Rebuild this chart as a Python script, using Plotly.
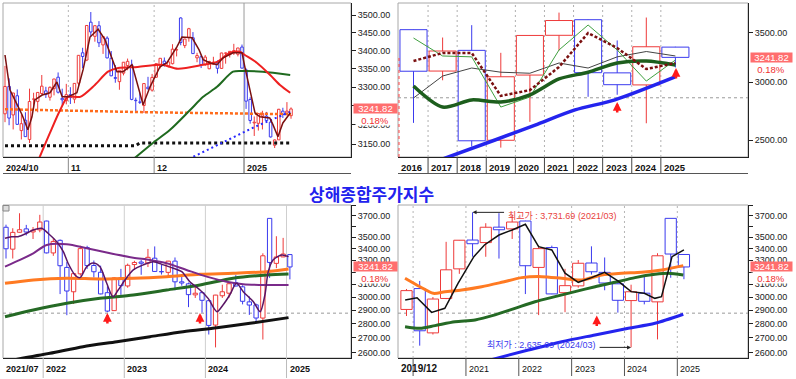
import math
import plotly.graph_objects as go

W, H = 796, 379
LAT = "Liberation Sans, Arial, sans-serif"
MIX = "Liberation Sans, Arial, Noto Sans CJK KR, sans-serif"
KOR = "Noto Sans CJK KR, sans-serif"
UP, DN = "#ee3a3a", "#3a3aee"

TITLE = "상해종합주가지수"
LAST_CLOSE = 3241.82
CHANGE_TXT = "0.18%"

# ================= Top-left : daily (2024/10/10 - 2025/01/17) =================
d_open = [3229, 3302, 3226, 3277, 3185, 3212, 3162, 3268, 3262, 3283,
          3290, 3273, 3296, 3327, 3270, 3264, 3280, 3268, 3311, 3394,
          3374, 3480, 3440, 3470, 3416, 3435, 3379, 3326, 3315, 3338,
          3359, 3360, 3265, 3260, 3251, 3300, 3292, 3327, 3358, 3371,
          3358, 3364, 3402, 3492, 3414, 3437, 3436, 3380, 3383, 3362,
          3350, 3363, 3368, 3351, 3393, 3389, 3394, 3390, 3410, 3347,
          3267, 3205, 3204, 3223, 3223, 3207, 3147, 3161, 3236, 3231, 3224]
d_high = [3358, 3324, 3284.5, 3294, 3228, 3233, 3296, 3285, 3286, 3333,
          3301, 3302, 3322.5, 3340, 3296, 3309, 3300, 3310.5, 3387.5, 3408,
          3471, 3509, 3470.5, 3483, 3440, 3440, 3399, 3360, 3346.5, 3368.5,
          3378, 3375, 3272, 3285, 3310, 3328, 3336, 3364.5, 3379, 3381,
          3371, 3418, 3409, 3494, 3433, 3464, 3452, 3394, 3387, 3388,
          3372, 3383, 3373, 3394, 3395, 3399, 3419, 3408, 3417, 3351,
          3273, 3222, 3230, 3237, 3234, 3213, 3162, 3242, 3245, 3260, 3246]
d_low = [3207, 3199, 3188, 3200, 3162, 3169, 3152.8, 3243, 3233, 3280,
         3271, 3264, 3278, 3283, 3253, 3254, 3255, 3257, 3303, 3352,
         3371, 3438, 3425, 3410, 3391, 3379, 3330, 3312, 3293, 3332,
         3346, 3265, 3232, 3255, 3231, 3294, 3288, 3325, 3351, 3356,
         3354, 3362, 3384, 3415, 3407, 3425, 3391, 3368, 3352, 3358,
         3349, 3361, 3337, 3350, 3364, 3381, 3388, 3384, 3351, 3242,
         3203, 3171, 3185, 3188, 3208, 3167, 3140, 3161, 3218, 3226, 3216]
d_close = [3301.93, 3217.74, 3284.32, 3201.29, 3202.95, 3169.38, 3261.56, 3268.11, 3285.87, 3302.80,
           3280.26, 3299.70, 3322.20, 3286.41, 3266.24, 3279.82, 3272.01, 3310.21, 3386.99, 3383.81,
           3470.66, 3452.30, 3470.07, 3421.97, 3439.28, 3379.84, 3330.73, 3323.85, 3346.01, 3367.99,
           3370.40, 3267.19, 3263.76, 3259.76, 3309.78, 3295.70, 3326.46, 3363.98, 3378.81, 3364.65,
           3368.86, 3404.08, 3402.53, 3422.66, 3432.49, 3461.50, 3391.88, 3386.33, 3361.49, 3382.21,
           3370.03, 3368.07, 3351.26, 3393.53, 3393.35, 3398.08, 3400.14, 3407.33, 3351.76, 3262.56,
           3211.43, 3206.92, 3229.64, 3230.17, 3211.39, 3168.52, 3160.76, 3240.94, 3227.12, 3236.03, 3241.82]
d_short_x = [0, 1.2, 2.4, 4.2, 5.6, 6.6, 7.3, 9.1, 11.0, 12.7, 14.0, 15.4, 17.6, 19.1, 20.8, 22.8,
             24.5, 26.2, 27.4, 28.9, 31.1, 33.8, 35.5, 37.9, 39.6, 42.1, 43.3, 45.8, 47.5, 48.5,
             50.2, 51.9, 53.4, 55.8, 58.0, 58.7, 60.0, 61.2, 62.4, 64.8, 65.6, 66.8, 68.0, 69.8]
d_short_y = [3388, 3293, 3266, 3226, 3187, 3221, 3266, 3279, 3285, 3314, 3274, 3274, 3285, 3347, 3438, 3460,
             3430, 3380, 3342, 3342, 3361, 3253, 3301, 3355, 3366, 3411, 3438, 3436, 3402, 3375,
             3366, 3361, 3380, 3394, 3394, 3355, 3285, 3231, 3221, 3218, 3200, 3169, 3205, 3231]
d_ma20_x = [7.8, 11.0, 13.5, 15.4, 18.4, 22.0, 25.2, 27.7, 32.5, 38.4, 42.3, 48.5, 51.9, 55.1, 57.5, 58.7, 61.7, 64.9, 67.3, 69.8]
d_ma20_y = [3100, 3179, 3239, 3274, 3274, 3306, 3342, 3352, 3355, 3361, 3350, 3361, 3369, 3394, 3397, 3388, 3366, 3333, 3306, 3285]
d_ma60_x = [31.0, 36.2, 40.4, 45.3, 48.5, 51.9, 55.8, 58.2, 63.1, 69.8]
d_ma60_y = [3108, 3153, 3187, 3239, 3274, 3301, 3342, 3344, 3342, 3333]
d_ma120_x = [45.0, 53.8, 61.2, 69.8]
d_ma120_y = [3112, 3156, 3195, 3234]
d_orange_x = [0, 35, 70]
d_orange_y = [3241, 3233, 3228]
d_black_x = [0, 32, 33, 70]
d_black_y = [3146, 3146, 3153, 3153]
d_lab_pos = [-0.49, 15.5, 36.5, 58.5]
d_lab_txt = ["2024/10", "11", "12", "2025"]
d_yticks = [3150, 3200, 3250, 3300, 3350, 3400, 3450, 3500]
d_yhidden = [3250]          # label fully covered by the price tag

# ================= Top-right : yearly (2016 - 2025) =================
y_open = [3536.59, 3105.31, 3314.03, 2497.88, 3066.34, 3474.68, 3649.15, 3087.51, 2972.78, 3347.94]
y_high = [3538.69, 3450.49, 3587.03, 3288.45, 3474.92, 3731.69, 3651.89, 3418.95, 3674.40, 3351.70]
y_low = [2638.30, 3016.53, 2449.20, 2440.91, 2646.80, 3312.72, 2863.65, 2882.02, 2635.09, 3140.98]
y_close = [3103.64, 3307.17, 2493.90, 3050.12, 3473.07, 3639.78, 3089.26, 2974.93, 3351.76, 3241.82]
y_years = ["2016", "2017", "2018", "2019", "2020", "2021", "2022", "2023", "2024", "2025"]
y_line_x = [0, 1, 2, 3, 4, 5, 6, 7, 8, 9]
y_green_thin = [3445, 3256, 3247, 2773, 2862, 3318, 3589, 3318, 3009, 3215]
y_red_dot = [3205, 3287, 3287, 2872, 2925, 3145, 3500, 3339, 3125, 3185]
y_gray_thin = [2853, 3057, 3135, 3094, 3084, 3185, 3135, 3247, 3302, 3256]
y_green_thick = [2963, 2773, 2836, 2817, 2881, 3029, 3094, 3185, 3205, 3165]
y_blue_x = [1.0, 2.8, 4.18, 5.55, 6.92, 8.99]
y_blue_y = [2355, 2500, 2620, 2748, 2836, 3048]
y_arrow_x = [7.0, 9.02]
y_arrow_y = [2818, 3135]
y_ref_level = 2855
y_yticks = [2500, 3000, 3500]

# ================= Bottom-left : monthly (2021/07 - 2025/01) =================
m_open = [3591, 3394, 3545, 3576, 3548, 3567, 3649, 3361, 3472, 3238,
          3041, 3185, 3408, 3254, 3198, 3034, 2897, 3152, 3087, 3262,
          3283, 3275, 3316, 3203, 3197, 3291, 3120, 3104, 3017, 3034,
          2972, 2791, 3010, 3030, 3112, 3080, 2963, 2940, 2842, 3674,
          3272, 3327, 3347]
m_high = [3615, 3582, 3723, 3613, 3593, 3708, 3652, 3491, 3480, 3283,
          3187, 3424, 3424, 3296, 3253, 3084, 3158, 3226, 3270, 3294,
          3300, 3396, 3418, 3259, 3293, 3322, 3159, 3114, 3089, 3045,
          2977, 3017, 3097, 3113, 3174, 3092, 3005, 2949, 3358, 3674,
          3509, 3494, 3351]
m_low = [3313, 3313, 3542, 3516, 3484, 3545, 3357, 3336, 3023, 2863,
         2947, 3170, 3226, 3155, 3021, 2885, 2896, 3017, 3073, 3218,
         3177, 3241, 3200, 3179, 3167, 3053, 3089, 2923, 2993, 2882,
         2724, 2635, 2993, 2995, 3082, 2944, 2865, 2815, 2689, 3152,
         3232, 3325, 3140]
m_close = [3397.36, 3543.94, 3568.17, 3547.34, 3563.89, 3639.78, 3361.44, 3462.31, 3252.20, 3047.06,
           3186.43, 3398.62, 3253.24, 3202.14, 3024.39, 2893.48, 3151.34, 3089.26, 3255.67, 3279.61,
           3272.86, 3323.27, 3204.56, 3202.06, 3291.04, 3119.88, 3110.48, 3018.77, 3029.67, 2974.93,
           2788.55, 3015.17, 3041.17, 3104.82, 3086.81, 2967.40, 2938.75, 2842.21, 3336.50, 3279.82,
           3326.46, 3351.76, 3241.82]
m_purple_thin_x = [-0.15, 0.84, 1.78, 3.06, 4.0, 5.28, 6.21, 7.5, 8.48, 9.17, 10.2, 10.95, 11.94, 12.87,
                   13.9, 14.9, 15.83, 16.6, 17.6, 18.83, 20.3, 21.8, 23.3, 24.75, 26.0, 27.2, 28.7,
                   29.9, 31.2, 32.1, 33.1, 34.1, 35.1, 36.6, 37.6, 38.3, 38.8, 39.5, 40.8, 41.8]
m_purple_thin_y = [3491, 3505, 3505, 3536, 3566, 3582, 3536, 3460, 3372, 3275, 3176, 3154, 3244, 3275,
                   3244, 3108, 3003, 3055, 3135, 3217, 3259, 3286, 3259, 3231, 3203, 3121, 3055,
                   2990, 2889, 2939, 3016, 3108, 3042, 2964, 2889, 3016, 3203, 3301, 3344, 3329]
m_purple_x = [-0.15, 2.07, 4.04, 6.02, 8.98, 11.94, 15.4, 18.83, 21.3, 23.77, 26.7, 29.7, 32.65, 35.1, 37.6, 41.8]
m_purple_y = [3244, 3301, 3358, 3431, 3437, 3402, 3358, 3320, 3301, 3273, 3217, 3162, 3121, 3100, 3095, 3095]
m_long_x = [-0.15, 4.04, 8.98, 13.9, 18.83, 23.77, 28.7, 33.6, 38.6, 41.8]
m_orange_y = [3108, 3135, 3149, 3143, 3149, 3162, 3181, 3190, 3203, 3225]
m_green_y = [2852, 2902, 2952, 2990, 3016, 3055, 3095, 3149, 3176, 3184]
m_black_x = [1.5, 6.5, 11.4, 16.4, 21.3, 26.2, 31.2, 36.1, 41.8]
m_black_y = [2555, 2595, 2640, 2674, 2709, 2744, 2772, 2804, 2845]
m_arrow_x = [15.0, 28.7]
m_arrow_y = [2880, 2880]
m_lab_pos = [-0.444, 5.5, 17.5, 29.5, 41.5]
m_lab_txt = ["2021/07", "2022", "2023", "2024", "2025"]

# ================= Bottom-right : quarterly (2019/12 - 2025/03) =================
q_open = [2905.7, 3066.3, 2735.4, 2989.0, 3226.0, 3474.7, 3452.0, 3592.0, 3576.0, 3649.2, 3238.0,
          3408.0, 3034.0, 3087.5, 3275.0, 3197.0, 3104.0, 2972.8, 3030.0, 2963.0, 3674.4, 3347.9]
q_high = [3063.0, 3127.2, 3000.0, 3458.8, 3474.9, 3731.7, 3628.5, 3723.9, 3708.9, 3651.9, 3424.8,
          3424.8, 3226.1, 3300.6, 3418.9, 3322.1, 3114.0, 3097.0, 3174.3, 3358.6, 3674.4, 3351.7]
q_low = [2857.0, 2646.8, 2724.0, 2984.0, 3185.0, 3328.5, 3328.0, 3312.7, 3484.3, 3023.3, 2863.7,
         3021.9, 2885.1, 3073.3, 3179.0, 3053.0, 2882.0, 2635.1, 2944.0, 2689.7, 3152.8, 3141.0]
q_close = [3050.12, 2750.30, 2984.67, 3218.05, 3473.07, 3441.91, 3591.20, 3568.17, 3639.78, 3252.20, 3398.62,
           3024.39, 3089.26, 3272.86, 3202.06, 3110.48, 2974.93, 3041.17, 2967.40, 3336.50, 3351.76, 3241.82]
q_black_x = [-0.1, 0.8, 1.9, 2.9, 3.9, 5.1, 5.9, 7.0, 8.0, 9.0, 10.0, 11.0, 12.0, 13.0, 14.0, 15.0,
             16.0, 17.0, 18.0, 18.8, 19.3, 20.1, 21.0]
q_black_y = [2977, 2995, 2884, 2914, 3108, 3329, 3431, 3520, 3566, 3619, 3416, 3387, 3190, 3116, 3154, 3198,
             3127, 3042, 3029, 2990, 3003, 3329, 3387]
q_orange_x = [-0.11, 1.02, 2.03, 2.91, 4.18, 5.69, 7.2, 8.72, 10.23, 11.75, 13.26, 14.78, 16.29, 17.8, 19.32, 20.95]
q_orange_y = [3149, 3081, 3029, 3042, 3055, 3081, 3116, 3154, 3162, 3149, 3135, 3176, 3190, 3198, 3217, 3253]
q_green_x = [-0.11, 1.02, 2.16, 3.67, 5.19, 6.7, 8.21, 9.73, 11.24, 12.76, 14.28, 15.78, 17.3, 18.81, 19.82, 20.95]
q_green_y = [2779, 2768, 2787, 2815, 2828, 2865, 2914, 2964, 3003, 3042, 3081, 3116, 3154, 3181, 3190, 3176]
q_blue_x = [6.5, 9.22, 11.75, 14.27, 16.79, 18.81, 20.95]
q_blue_y = [2555, 2617, 2674, 2721, 2768, 2804, 2870]
q_arrow_x = [14.4]
q_arrow_y = [2860]
q_hi = dict(idx=5, val=3731.69, text="최고가 : 3,731.69 (2021/03)")
q_lo = dict(idx=17, val=2635.09, text="최저가 : 2,635.09 (2024/03)")
q_lab_pos = [-0.643, 4.5, 8.5, 12.5, 16.5, 20.5]
q_lab_txt = ["2019/12", "2021", "2022", "2023", "2024", "2025"]
b_ref_level = 2878
b_yticks = [2600, 2700, 2800, 2900, 3000, 3100, 3200, 3300, 3400, 3500, 3600, 3700, 3800]
b_yhidden = [3200, 3600, 3800]   # 3200 is fully covered by the price tag


# ================= helpers =================
def lg(v):
    return math.log10(v)


def py(p):
    return 1 - p / H


def px(p):
    return p / W


fig = go.Figure()


def add_candles(o, h, l, c, width, xa, ya):
    n = len(o)
    for rising, color in ((True, UP), (False, DN)):
        sel = [i for i in range(n) if (c[i] >= o[i]) == rising]
        wx, wy = [], []
        for i in sel:
            top, bot = max(o[i], c[i]), min(o[i], c[i])
            wx += [i, i, None, i, i, None]
            wy += [h[i], top, None, bot, l[i], None]
        fig.add_trace(go.Bar(x=sel, y=[abs(c[i] - o[i]) for i in sel],
                             base=[min(o[i], c[i]) for i in sel], width=width,
                             marker=dict(color="white", line=dict(color=color, width=1)),
                             xaxis=xa, yaxis=ya, hoverinfo="skip", showlegend=False))
        fig.add_trace(go.Scatter(x=wx, y=wy, mode="lines", line=dict(color=color, width=1),
                                 xaxis=xa, yaxis=ya, hoverinfo="skip", showlegend=False))


def add_line(x, y, xa, ya, color, width, dash="solid", shape="linear"):
    fig.add_trace(go.Scatter(x=x, y=y, mode="lines",
                             line=dict(color=color, width=width, dash=dash, shape=shape, smoothing=0.8),
                             xaxis=xa, yaxis=ya, hoverinfo="skip", showlegend=False))


# ---- top-left
add_candles(d_open, d_high, d_low, d_close, 0.62, "x", "y")
add_line(d_black_x, d_black_y, "x", "y", "#111111", 3, "3px,3px")
add_line(d_orange_x, d_orange_y, "x", "y", "#ff6a1a", 2.5, "3px,2px")
add_line(d_ma120_x, d_ma120_y, "x", "y", "#2a2aff", 2, "2px,3px")
add_line(d_ma60_x, d_ma60_y, "x", "y", "#1f6a1f", 2, shape="spline")
add_line(d_ma20_x, d_ma20_y, "x", "y", "#ee2020", 2, shape="spline")
add_line(d_short_x, d_short_y, "x", "y", "#7a1010", 1.5)

# ---- top-right
add_candles(y_open, y_high, y_low, y_close, 0.93, "x2", "y2")
add_line(y_line_x, y_gray_thin, "x2", "y2", "#444444", 1)
add_line(y_line_x, y_green_thin, "x2", "y2", "#3fa03f", 1)
add_line(y_line_x, y_green_thick, "x2", "y2", "#1d5e1d", 3.5, shape="spline")
add_line(y_line_x, y_red_dot, "x2", "y2", "#7a1010", 2.5, "3px,2px")
add_line(y_blue_x, y_blue_y, "x2", "y2", "#2424ee", 3.5, shape="spline")

# ---- bottom-left
add_candles(m_open, m_high, m_low, m_close, 0.64, "x3", "y3")
add_line(m_black_x, m_black_y, "x3", "y3", "#111111", 3, shape="spline")
add_line(m_long_x, m_green_y, "x3", "y3", "#256a25", 3, shape="spline")
add_line(m_long_x, m_orange_y, "x3", "y3", "#ff7a22", 3, shape="spline")
add_line(m_purple_x, m_purple_y, "x3", "y3", "#7a2a8a", 2, shape="spline")
add_line(m_purple_thin_x, m_purple_thin_y, "x3", "y3", "#5a1565", 1.5, shape="spline")

# ---- bottom-right
add_candles(q_open, q_high, q_low, q_close, 0.85, "x4", "y4")
add_line(q_blue_x, q_blue_y, "x4", "y4", "#2424ee", 3, shape="spline")
add_line(q_green_x, q_green_y, "x4", "y4", "#256a25", 3, shape="spline")
add_line(q_orange_x, q_orange_y, "x4", "y4", "#ff7a22", 3, shape="spline")
add_line(q_black_x, q_black_y, "x4", "y4", "#111111", 1.5)

# ================= axes =================
LEFT = [px(3), px(351)]
RIGHT = [px(398), px(748)]
TOP = [py(157), py(3)]
BOT = [py(358), py(205)]


def xax(domain, anchor, rng):
    return dict(domain=domain, anchor=anchor, range=rng, showgrid=False, zeroline=False,
                showticklabels=False, ticks="", showline=True, linecolor="#222", linewidth=1,
                fixedrange=True)


def yax(domain, anchor, lo, hi, vals, hidden=()):
    texts = ["" if v in hidden else f"{v:.2f}" for v in vals]
    return dict(domain=domain, anchor=anchor, type="log", range=[lg(lo), lg(hi)], side="right",
                showgrid=False, zeroline=False, showline=True, linecolor="#222", linewidth=1,
                ticks="outside", ticklen=4, tickwidth=1, tickcolor="#222",
                tickvals=vals, ticktext=texts, tickfont=dict(family=LAT, size=9, color="#222"),
                fixedrange=True)


shapes = []
annotations = []

# frames
for (x0, x1, y0, y1) in ((3, 351, 3, 157), (398, 748, 3, 157), (3, 351, 205, 358), (398, 748, 205, 358)):
    shapes.append(dict(type="rect", xref="paper", yref="paper", x0=px(x0), x1=px(x1), y0=py(y1), y1=py(y0),
                       line=dict(color="#a8a8a8", width=1), layer="below"))

# separator lines under top labels
for (x0, x1) in ((3, 351), (398, 748)):
    shapes.append(dict(type="line", xref="paper", yref="paper", x0=px(x0), x1=px(x1), y0=py(173.5), y1=py(173.5),
                       line=dict(color="#555", width=1)))


def vgrid(xref, pos, color, dash, y_top, y_bot, sep_bot, sep_color):
    for p in pos:
        shapes.append(dict(type="line", xref=xref, yref="paper", x0=p, x1=p, y0=py(y_bot), y1=py(y_top),
                           line=dict(color=color, width=1, dash=dash), layer="below"))
        shapes.append(dict(type="line", xref=xref, yref="paper", x0=p, x1=p, y0=py(sep_bot), y1=py(y_bot),
                           line=dict(color=sep_color, width=1)))


vgrid("x", d_lab_pos[1:3], "#b5b5b5", "2px,3px", 3, 157, 173, "#888")
vgrid("x", d_lab_pos[3:], "#9a9a9a", "solid", 3, 157, 173, "#555")
vgrid("x2", [i + 0.5 for i in range(9)], "#b0b0b0", "2px,3px", 3, 157, 173, "#444")
vgrid("x3", m_lab_pos[1:], "#cfcfcf", "solid", 205, 358, 378, "#bbbbbb")
vgrid("x4", q_lab_pos[1:] + [0.5], "#b5b5b5", "2px,3px", 205, 358, 376, "#555")

# horizontal reference lines
for (xr, yr, lev) in (("x2 domain", "y2", y_ref_level), ("x3 domain", "y3", b_ref_level), ("x4 domain", "y4", b_ref_level)):
    shapes.append(dict(type="line", xref=xr, yref=yr, x0=0, x1=1, y0=lev, y1=lev,
                       line=dict(color="#9a9a9a", width=1, dash="3px,3px"), layer="below"))

# red dashed marker on left edge of yearly chart
shapes.append(dict(type="line", xref="paper", yref="paper", x0=px(399), x1=px(399), y0=py(157), y1=py(58),
                   line=dict(color="#ff4040", width=1, dash="3px,3px")))
# small square button at top-left of monthly chart
shapes.append(dict(type="rect", xref="paper", yref="paper", x0=px(3), x1=px(9), y0=py(211), y1=py(205.5),
                   line=dict(color="#888", width=1), fillcolor="#dddddd"))


def xlabels(xref, pos, txt, ypix, size, bold):
    for k, (p, t) in enumerate(zip(pos, txt)):
        b = bold[k] if isinstance(bold, list) else bold
        annotations.append(dict(xref=xref, yref="paper", x=p, y=py(ypix), text=t, showarrow=False,
                                xanchor="left", yanchor="middle", xshift=1,
                                font=dict(family=LAT, size=size if not isinstance(size, list) else size[k],
                                          color="#111", weight="bold" if b else "normal")))


xlabels("x", d_lab_pos, d_lab_txt, 167.5, 9, True)
xlabels("x2", [-0.533] + [i + 0.5 for i in range(9)], y_years, 167.5, 9.5, True)
xlabels("x3", m_lab_pos, m_lab_txt, 368.5, 9, True)
xlabels("x4", q_lab_pos, q_lab_txt, 368.5, [10, 9, 9, 9, 9, 9], [True, False, False, False, False, False])


def price_tag(yref, xleft, width):
    annotations.append(dict(xref="paper", yref=yref, x=px(xleft), y=lg(LAST_CLOSE), text=f"{LAST_CLOSE:.2f}",
                            showarrow=False, xanchor="left", yanchor="middle", width=width, height=9,
                            bgcolor="#ff6e6e", borderpad=0, align="center",
                            font=dict(family=LAT, size=9.5, color="white")))
    annotations.append(dict(xref="paper", yref=yref, x=px(xleft + width / 2), y=lg(LAST_CLOSE), yshift=-11.5,
                            text=CHANGE_TXT, showarrow=False, xanchor="center", yanchor="middle",
                            width=38, height=10, bgcolor="white", borderpad=0, align="center",
                            font=dict(family=LAT, size=9.5, color="#f03030")))


price_tag("y", 353, 43)
price_tag("y2", 750, 41)
price_tag("y3", 353, 43)
price_tag("y4", 750, 41)


def red_arrows(xref, yref, xs, ys):
    for a, b in zip(xs, ys):
        annotations.append(dict(xref=xref, yref=yref, x=a, y=lg(b), ax=0, ay=12, text="", showarrow=True,
                                arrowhead=2, arrowsize=0.7, arrowwidth=2.5, arrowcolor="#ff1a1a", standoff=0))


red_arrows("x2", "y2", y_arrow_x, y_arrow_y)
red_arrows("x3", "y3", m_arrow_x, m_arrow_y)
red_arrows("x4", "y4", q_arrow_x, q_arrow_y)

# high / low notes on quarterly chart
annotations.append(dict(xref="x4", yref="y4", x=q_hi["idx"], y=lg(q_hi["val"]), ax=33, ay=0, text="",
                        showarrow=True, arrowhead=2, arrowsize=0.8, arrowwidth=1, arrowcolor="#222", standoff=0))
annotations.append(dict(xref="x4", yref="y4", x=q_hi["idx"], y=lg(q_hi["val"]), xshift=33, yshift=-4,
                        text=q_hi["text"], showarrow=False, xanchor="left", yanchor="middle",
                        font=dict(family=MIX, size=9, color="#e8413c")))
annotations.append(dict(xref="x4", yref="y4", x=q_lo["idx"], y=lg(q_lo["val"]), ax=-33, ay=0, text="",
                        showarrow=True, arrowhead=2, arrowsize=0.8, arrowwidth=1, arrowcolor="#222", standoff=0))
annotations.append(dict(xref="x4", yref="y4", x=q_lo["idx"], y=lg(q_lo["val"]), xshift=-34, yshift=2,
                        text=q_lo["text"], showarrow=False, xanchor="right", yanchor="middle",
                        font=dict(family=MIX, size=9, color="#3a3aee")))

# title
annotations.append(dict(xref="paper", yref="paper", x=px(371), y=py(193), text=TITLE, showarrow=False,
                        xanchor="center", yanchor="middle",
                        font=dict(family=KOR, size=17, color="#2222ee", weight="bold")))

fig.update_layout(
    width=W, height=H, margin=dict(l=0, r=0, t=0, b=0),
    paper_bgcolor="white", plot_bgcolor="white",
    barmode="overlay", hovermode=False, showlegend=False,
    xaxis=xax(LEFT, "y", [-0.49, 84.68]),
    yaxis=yax(TOP, "x", 3117, 3535, d_yticks, d_yhidden),
    xaxis2=xax(RIGHT, "y2", [-0.533, 11.495]),
    yaxis2=yax(TOP, "x2", 2370, 3846, y_yticks),
    xaxis3=xax(LEFT, "y3", [-0.444, 51.04]),
    yaxis3=yax(BOT, "x3", 2564, 3803, b_yticks, b_yhidden),
    xaxis4=xax(RIGHT, "y4", [-0.643, 25.85]),
    yaxis4=yax(BOT, "x4", 2564, 3803, b_yticks, b_yhidden),
    shapes=shapes, annotations=annotations,
)

fig.write_html("out.html", config=dict(displayModeBar=False, staticPlot=True),
               post_script="document.body.style.margin='0';document.body.style.overflow='hidden';")
